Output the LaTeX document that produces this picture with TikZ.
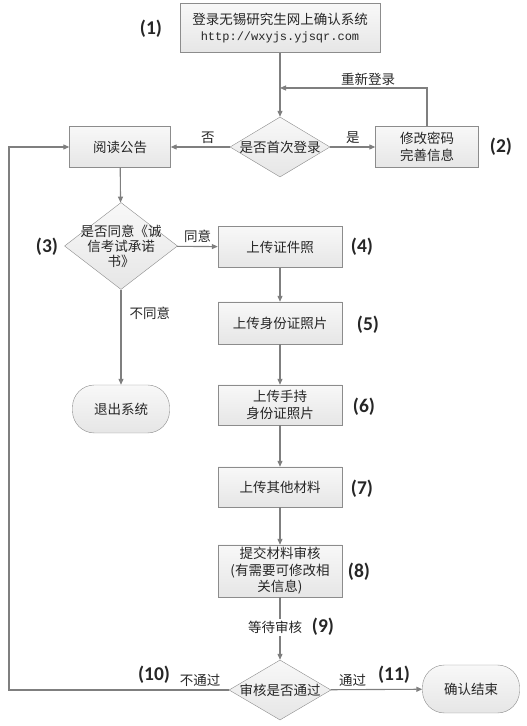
\documentclass[tikz,border=0pt]{standalone}
\usepackage{fontspec}
\setmainfont{Noto Sans CJK SC}
\setmonofont{Liberation Mono}
\newfontfamily\numfont{Carlito}
\usetikzlibrary{positioning,arrows.meta,shapes.geometric}
\definecolor{fcline}{HTML}{7F7F7F}
\definecolor{fcedge}{HTML}{8C8C8C}
\definecolor{fctop}{HTML}{F8F8F8}
\definecolor{fcbot}{HTML}{E6E6E6}
\definecolor{fctext}{HTML}{262626}
\begin{document}
\begin{tikzpicture}[x=1pt, y=1pt,
  font=\fontsize{13.5}{16.5}\selectfont, text=fctext,
  stepbox/.style={draw=fcedge, top color=fctop, bottom color=fcbot,
                  minimum width=#1, minimum height=41pt, inner sep=1pt, align=center},
  stepbox/.default=124pt,
  decide/.style 2 args={diamond, draw=fcedge, top color=fctop, bottom color=fcbot,
                        minimum width=#1, minimum height=#2, inner sep=0pt},
  dtext/.style={align=center, font=\fontsize{13.5}{15}\selectfont},
  term/.style={draw=fcedge, top color=fctop, bottom color=fcbot, rounded corners=22pt,
               minimum width=97pt, minimum height=48pt},
  arr/.style={-{Triangle[length=6pt, width=5pt]}, draw=fcline, line width=1.1pt},
  lab/.style={inner sep=2pt},
  num/.style={font=\numfont\fontsize{19.5}{22}\selectfont\bfseries},
]
  \useasboundingbox (0,0) rectangle (527,726);

  % ---- login and first check -----------------------------------------------
  \node[stepbox=200pt, minimum height=49pt] (login) at (280,698)
    {登录无锡研究生网上确认系统\\[-1pt]{\ttfamily\fontsize{12}{14}\selectfont http://wxyjs.yjsqr.com}};
  \node[num] at (151,697) {(1)};
  \node[decide={100pt}{60pt}, label={[dtext]center:是否首次登录}] (first) at (280,579) {};
  \node[stepbox=101pt] (notice) at (120,579) {阅读公告};
  \node[stepbox=103pt] (passwd) at (427,579) {修改密码\\完善信息};
  \node[num] at (501,579) {(2)};
  \coordinate (relog) at (280,638);

  \draw[arr] (login) -- (first);
  \draw[arr] (passwd.north) |- node[lab, above, pos=0.7] {重新登录} (relog);
  \draw[arr] (first) -- node[lab, above=1pt, pos=0.37] {否} (notice);
  \draw[arr] (first) -- node[lab, above=1pt] {是} (passwd);

  % ---- promise and uploads -------------------------------------------------
  \node[decide={113pt}{87pt}, label={[dtext]center:是否同意《诚\\信考试承诺\\书》}] (agree) at (121,480) {};
  \node[num] at (47,479) {(3)};
  \node[stepbox] (photo) at (280,479) {上传证件照};
  \node[num] at (362,479) {(4)};
  \node[stepbox, minimum height=42pt] (idcard) at (280,403) {上传身份证照片};
  \node[num] at (368,401) {(5)};
  \node[stepbox, minimum height=40pt] (handheld) at (280,321) {上传手持\\身份证照片};
  \node[num] at (364,319) {(6)};
  \node[stepbox, minimum height=40pt] (other) at (280,239) {上传其他材料};
  \node[num] at (362,237) {(7)};
  \node[stepbox, minimum height=52pt] (submit) at (280,155) {提交材料审核\\(有需要可修改相\\关信息)};
  \node[num] at (359,154) {(8)};
  \node[term] (quit) at (121,317) {退出系统};

  \draw[arr] (notice) -- (agree);
  \draw[arr] (agree) -- node[lab, above=1pt] {同意} (photo);
  \draw[arr] (agree) -- node[lab, right=6pt, pos=0.25] {不同意} (quit);
  \draw[arr] (photo) -- (idcard);
  \draw[arr] (idcard) -- (handheld);
  \draw[arr] (handheld) -- (other);
  \draw[arr] (other) -- (submit);

  % ---- review --------------------------------------------------------------
  \node[decide={102pt}{60pt}, label={[dtext]center:审核是否通过}] (review) at (280,36) {};
  \node[num] at (323,99) {(9)};
  \node[term] (done) at (471,37) {确认结束};
  \node[num] at (394,51) {(11)};
  \node[num] at (154,51) {(10)};
  \coordinate (loopcorner) at (9,36);

  \draw[arr] (submit) -- node[lab, fill=white, xshift=-5pt, pos=0.48] {等待审核} (review);
  \draw[arr] (review) -- node[lab, above=1pt, pos=0.24] {通过} (done);
  \draw[arr] (review) -- node[lab, above=1pt, pos=0.13] {不通过} (loopcorner) |- (notice);
\end{tikzpicture}
\end{document}
